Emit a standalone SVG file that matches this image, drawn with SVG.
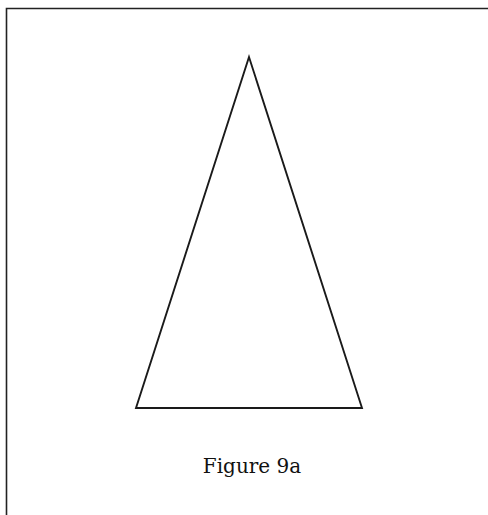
<svg xmlns="http://www.w3.org/2000/svg" width="488" height="515" viewBox="0 0 488 515">
<style>
.frame{fill:none;stroke:#222;stroke-width:1.6}
.tri{fill:none;stroke:#1a1a1a;stroke-width:1.9;stroke-linejoin:miter}
.cap{font-family:"DejaVu Serif","Liberation Serif",serif;font-size:20px;fill:#111}
</style>
<rect width="488" height="515" fill="#fff"/>
<g id="frame"><path class="frame" d="M6.5,530 V8.5 H500"/></g>
<g id="triangle"><polygon class="tri" points="249,57 136,408 362,408"/></g>
<g id="caption"><text class="cap" x="252" y="473" text-anchor="middle">Figure 9a</text></g>
</svg>
